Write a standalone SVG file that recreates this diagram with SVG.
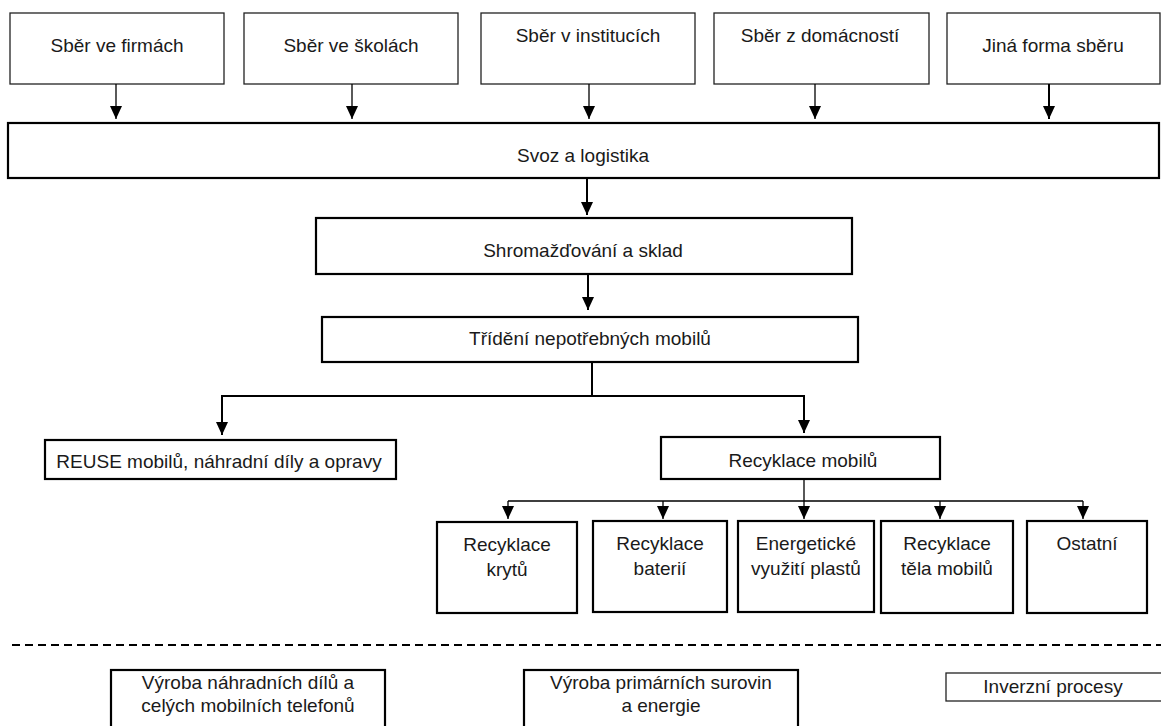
<svg xmlns="http://www.w3.org/2000/svg" width="1161" height="726" viewBox="0 0 1161 726">
<style>
text{font-family:"Liberation Sans",Arial,sans-serif;font-size:19px;fill:#1a1a1a;text-anchor:middle}
.thin{fill:#fff;stroke:#222;stroke-width:1.3}
.thick{fill:#fff;stroke:#000;stroke-width:2.2}
.c1{fill:none;stroke:#000;stroke-width:1.3}
.c2{fill:none;stroke:#000;stroke-width:2}
</style>
<defs>
<marker id="ah" markerUnits="userSpaceOnUse" markerWidth="13" markerHeight="12" refX="13" refY="6" orient="auto">
<path d="M0,0 L13,6 L0,12 z" fill="#000"/>
</marker>
</defs>
<rect width="1161" height="726" fill="#fff"/>
<g id="n-firmy"><rect class="thin" x="10" y="13" width="214" height="71"/><text x="117" y="52">Sběr ve firmách</text></g>
<g id="n-skoly"><rect class="thin" x="244" y="13" width="214" height="71"/><text x="351" y="52">Sběr ve školách</text></g>
<g id="n-instituce"><rect class="thin" x="481" y="13" width="214" height="71"/><text x="588" y="42">Sběr v institucích</text></g>
<g id="n-domacnosti"><rect class="thin" x="714" y="13" width="215" height="71"/><text x="820" y="42">Sběr z domácností</text></g>
<g id="n-jina"><rect class="thin" x="947" y="13" width="213" height="71"/><text x="1053" y="52">Jiná forma sběru</text></g>
<g id="n-svoz"><rect class="thick" x="8" y="123" width="1151" height="55" stroke-width="2.6"/><text x="583" y="162">Svoz a logistika</text></g>
<g id="n-shrom"><rect class="thick" x="316" y="218" width="536" height="56"/><text x="583" y="257">Shromažďování a sklad</text></g>
<g id="n-trideni"><rect class="thick" x="322" y="317" width="536" height="45"/><text x="590" y="345">Třídění nepotřebných mobilů</text></g>
<g id="n-reuse"><rect class="thick" x="45" y="440" width="351" height="39"/><text x="219" y="468">REUSE mobilů, náhradní díly a opravy</text></g>
<g id="n-recyklace"><rect class="thick" x="661" y="437" width="279" height="42"/><text x="803" y="467">Recyklace mobilů</text></g>
<g id="n-kryty"><rect class="thick" x="437" y="522" width="140" height="91"/><text x="507" y="551">Recyklace</text><text x="507" y="576">krytů</text></g>
<g id="n-baterie"><rect class="thick" x="593" y="521" width="134" height="91"/><text x="660" y="550">Recyklace</text><text x="660" y="575">baterií</text></g>
<g id="n-plasty"><rect class="thick" x="738" y="521" width="136" height="91"/><text x="806" y="550">Energetické</text><text x="806" y="575">využití plastů</text></g>
<g id="n-telo"><rect class="thick" x="881" y="521" width="132" height="92"/><text x="947" y="550">Recyklace</text><text x="947" y="575">těla mobilů</text></g>
<g id="n-ostatni"><rect class="thick" x="1027" y="521" width="120" height="92"/><text x="1087" y="550">Ostatní</text></g>
<line x1="12" y1="645" x2="1161" y2="645" stroke="#000" stroke-width="2.2" stroke-dasharray="8,5"/>
<g id="n-vyroba-dily"><rect class="thick" x="111" y="670" width="274" height="80"/><text x="248" y="689">Výroba náhradních dílů a</text><text x="248" y="712">celých mobilních telefonů</text></g>
<g id="n-vyroba-suroviny"><rect class="thick" x="524" y="670" width="274" height="80"/><text x="661" y="689">Výroba primárních surovin</text><text x="661" y="712">a energie</text></g>
<g id="n-inverzni"><rect class="thin" x="946" y="673" width="230" height="28" stroke-width="1.6"/><text x="1053" y="693">Inverzní procesy</text></g>
<g id="connectors">
<path class="c1" d="M116,84 V119" marker-end="url(#ah)"/>
<path class="c1" d="M352,84 V119" marker-end="url(#ah)"/>
<path class="c1" d="M589,84 V119" marker-end="url(#ah)"/>
<path class="c1" d="M815,84 V119" marker-end="url(#ah)"/>
<path class="c2" d="M1049,84 V119" marker-end="url(#ah)"/>
<path class="c2" d="M587,178 V215" marker-end="url(#ah)"/>
<path class="c2" d="M588,274 V310" marker-end="url(#ah)"/>
<path class="c2" d="M592,362 V396 H222 V435" marker-end="url(#ah)"/>
<path class="c2" d="M592,396 H804 V433" marker-end="url(#ah)"/>
<path class="c1" d="M804,479 V501 M508,501 H1083"/>
<path class="c1" d="M508,501 V519" marker-end="url(#ah)"/>
<path class="c1" d="M663,501 V519" marker-end="url(#ah)"/>
<path class="c1" d="M804,501 V519" marker-end="url(#ah)"/>
<path class="c1" d="M940,501 V519" marker-end="url(#ah)"/>
<path class="c1" d="M1083,501 V519" marker-end="url(#ah)"/>
</g>
</svg>
